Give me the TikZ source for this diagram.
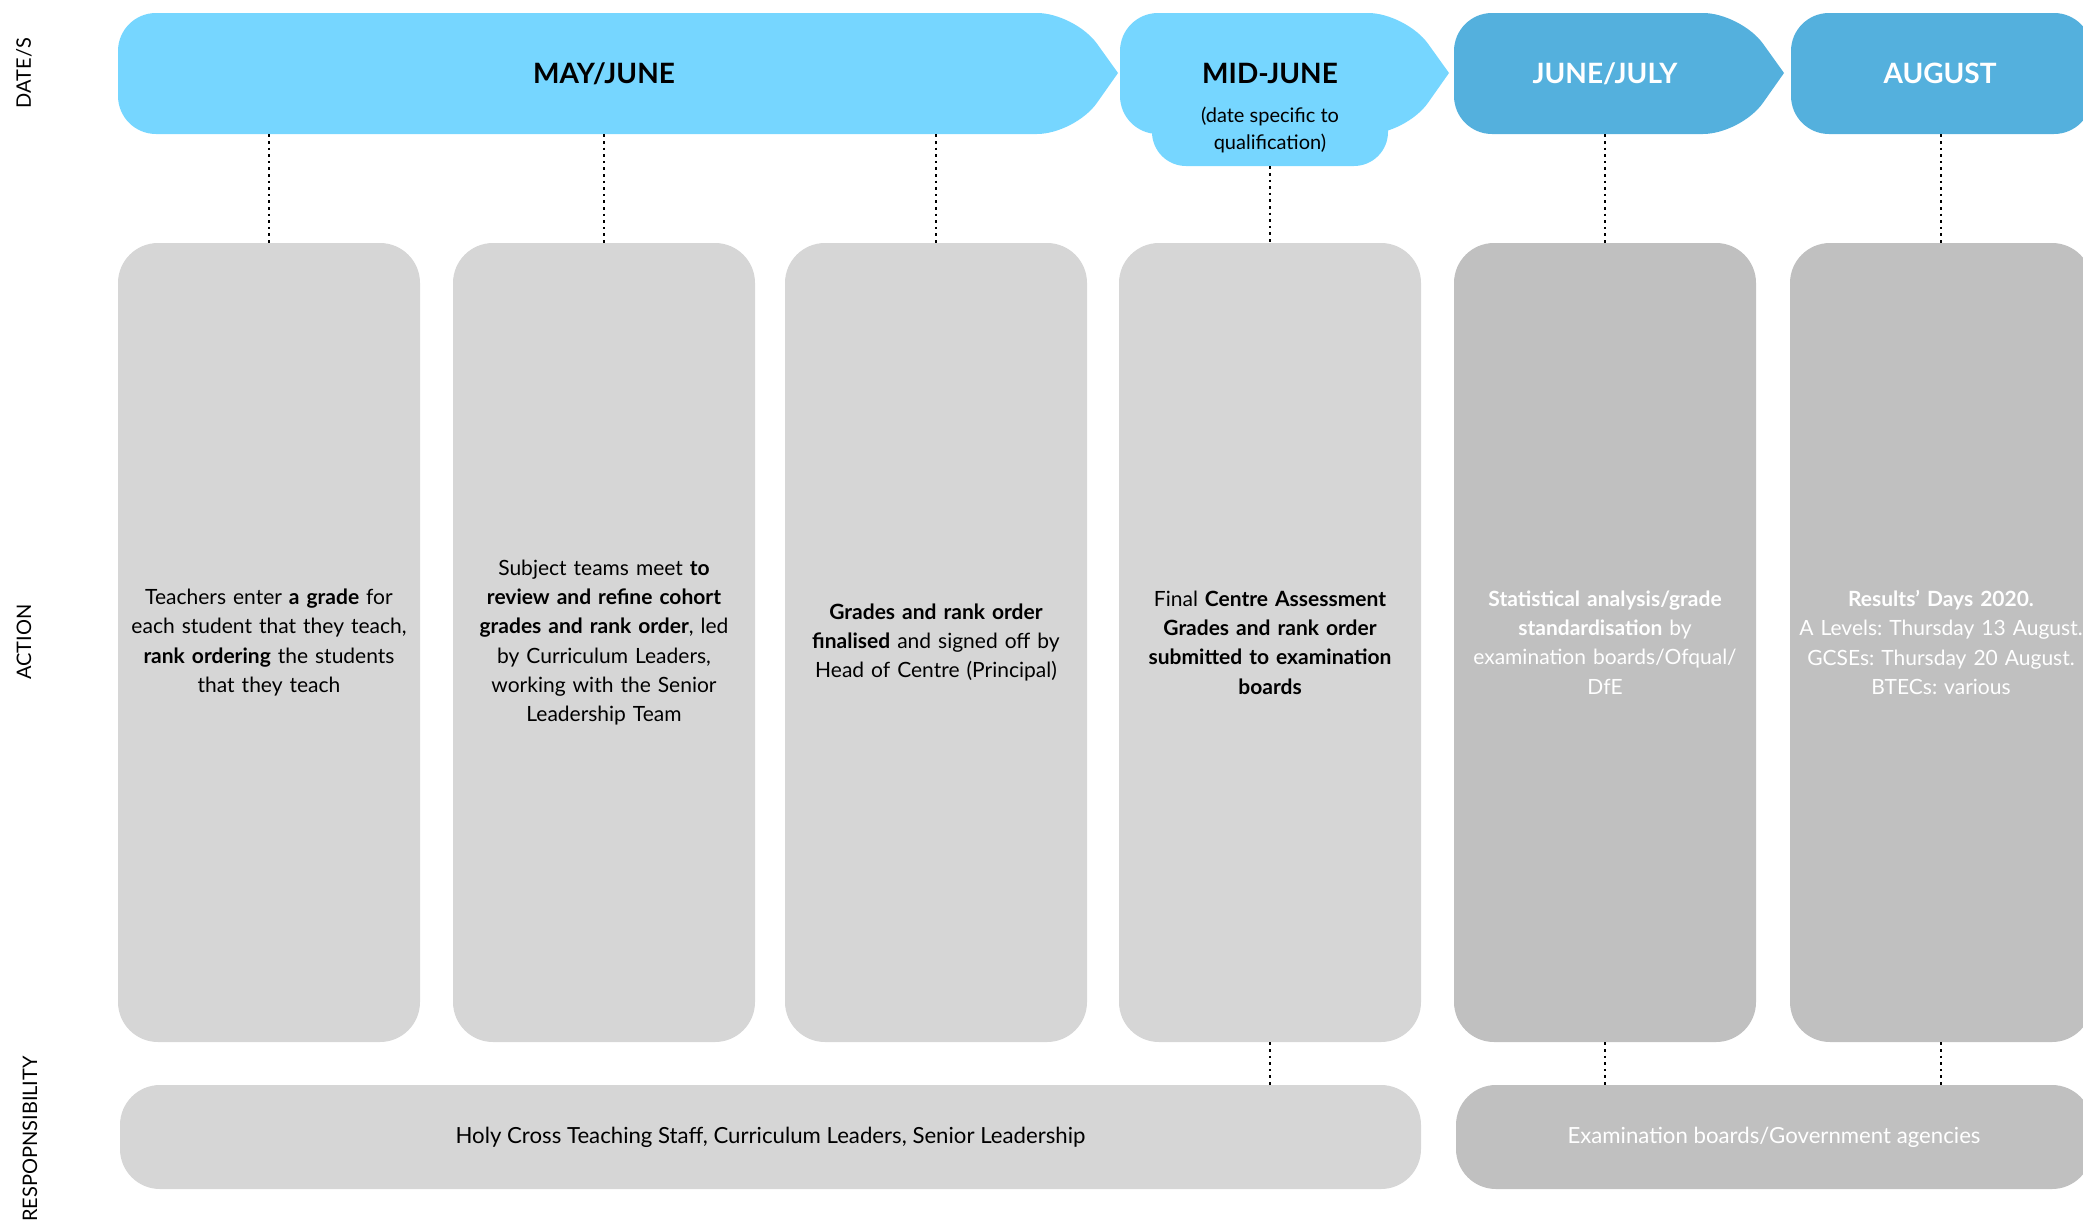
\documentclass[tikz,border=0pt]{standalone}
\usepackage{fontspec}
\setmainfont{Lato}
\frenchspacing
\definecolor{skyA}{RGB}{118,214,255}
\definecolor{skyB}{RGB}{84,176,221}
\definecolor{greyA}{RGB}{214,214,214}
\definecolor{greyB}{RGB}{192,192,192}
\begin{document}
\begin{tikzpicture}[x=0.5pt,y=-0.5pt,
  actbox/.style={rounded corners=20pt, minimum width=151pt, minimum height=399.5pt, inner sep=0pt, text width=145pt, align=center, font=\fontsize{10.5}{14.65}\selectfont},
  respbox/.style={rounded corners=20pt, minimum height=52pt, inner sep=0pt, font=\fontsize{11.1}{13}\selectfont},
  banner/.style={minimum height=60.5pt, minimum width=100pt, inner sep=0pt, font=\bfseries\fontsize{14}{16}\selectfont},
  subnote/.style={minimum height=36pt, minimum width=100pt, inner sep=0pt, align=center, font=\fontsize{10}{13.3}\selectfont},
  sidelabel/.style={rotate=90, inner sep=0pt, font=\fontsize{10}{12}\selectfont},
  dots/.style={line width=1.3pt, dash pattern=on 1.3pt off 2pt},
]
\useasboundingbox (0,0) rectangle (2083,1226);
\clip (0,0) rectangle (2083,1226);

% ---- banners (shapes) ----
\fill[skyA] (600,134) [rounded corners=19pt] -- (118,134) -- (118,13) -- (1075,13) [sharp corners] -- (1118,73) [rounded corners=19pt] -- (1075,134) -- cycle;
\fill[skyA] (1300,134) [rounded corners=19pt] -- (1120,134) -- (1120,13) -- (1406,13) [sharp corners] -- (1449,73) [rounded corners=19pt] -- (1406,134) -- cycle;
\fill[skyA, rounded corners=17pt] (1152,90) rectangle (1388,166);
\fill[skyB] (1600,134) [rounded corners=19pt] -- (1454,134) -- (1454,13) -- (1741,13) [sharp corners] -- (1784,73) [rounded corners=19pt] -- (1741,134) -- cycle;
\fill[skyB, rounded corners=19pt] (1791,13) rectangle (2092,134);

% ---- banner labels ----
\node[banner] (may) at (604,73.5) {MAY/JUNE};
\node[banner] (mid) at (1270,73.5) {MID-JUNE};
\node[subnote] (midsub) at (1270,130) {(date specific to\\qualification)};
\node[banner, text=white] (jj) at (1605,73.5) {JUNE/JULY};
\node[banner, text=white] (aug) at (1940,73.5) {AUGUST};

% ---- side labels ----
\node[sidelabel] (ldates) at (24,73) {DATE/S};
\node[sidelabel] (laction) at (24,642) {ACTION};
\node[sidelabel] (lresp) at (30,1139) {RESPOPNSIBILITY};

% ---- action boxes ----
\node[actbox, fill=greyA] (a1) at (269,642.5) {Teachers enter \textbf{a grade} for\\each student that they teach,\\\textbf{rank ordering} the students\\that they teach};
\node[actbox, fill=greyA] (a2) at (604,642.5) {Subject teams meet \textbf{to}\\\textbf{review and refine cohort}\\\textbf{grades and rank order}, led\\by Curriculum Leaders,\\working with the Senior\\Leadership Team};
\node[actbox, fill=greyA] (a3) at (936,642.5) {\textbf{Grades and rank order}\\\textbf{finalised} and signed off by\\Head of Centre (Principal)};
\node[actbox, fill=greyA] (a4) at (1270,642.5) {Final \textbf{Centre Assessment}\\\textbf{Grades and rank order}\\\textbf{submitted to examination}\\\textbf{boards}};
\node[actbox, fill=greyB, text=white] (a5) at (1605,642.5) {\textbf{Statistical analysis/grade}\\\textbf{standardisation} by\\examination boards/Ofqual/\\DfE};
\node[actbox, fill=greyB, text=white] (a6) at (1941,642.5) {\textbf{Results’ Days 2020.}\\A Levels: Thursday 13 August.\\GCSEs: Thursday 20 August.\\BTECs: various};

% ---- responsibility boxes ----
\node[respbox, fill=greyA, minimum width=650.5pt] (r1) at (770.5,1137) {Holy Cross Teaching Staff, Curriculum Leaders, Senior Leadership};
\node[respbox, fill=greyB, text=white, minimum width=318pt] (r2) at (1774,1137) {Examination boards/Government agencies};

% ---- dotted connectors ----
\draw[dots] (may.south -| a1.north) -- (a1.north);
\draw[dots] (may.south -| a2.north) -- (a2.north);
\draw[dots] (may.south -| a3.north) -- (a3.north);
\draw[dots] (midsub.south -| a4.north) -- (a4.north);
\draw[dots] (jj.south -| a5.north) -- (a5.north);
\draw[dots] (aug.south -| a6.north) -- (a6.north);
\draw[dots] (a4.south) -- (a4.south |- r1.north);
\draw[dots] (a5.south) -- (a5.south |- r2.north);
\draw[dots] (a6.south) -- (a6.south |- r2.north);
\end{tikzpicture}
\end{document}
